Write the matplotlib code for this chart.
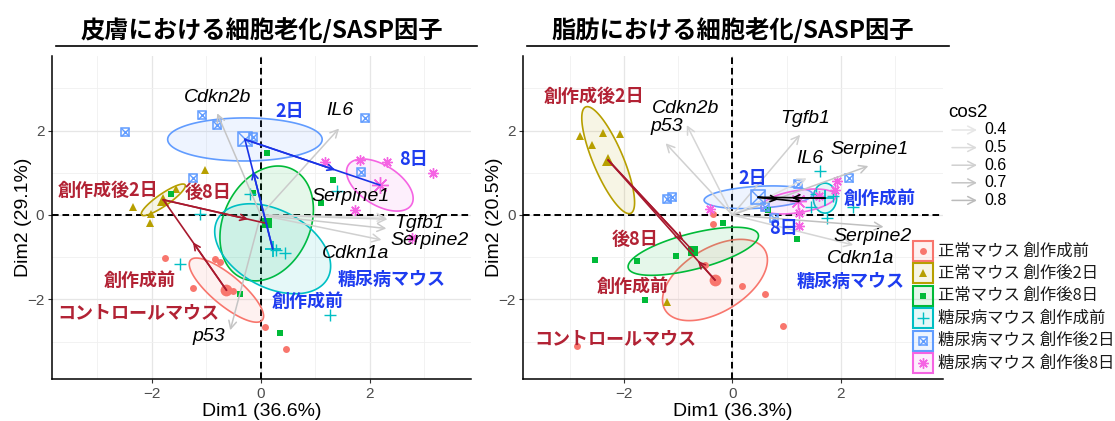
import numpy as np
import matplotlib
matplotlib.use("Agg")
import matplotlib.pyplot as plt
from matplotlib.patches import Polygon, Rectangle
from matplotlib.lines import Line2D
from matplotlib.colors import to_rgba

# ---------------- data ----------------
group_labels = ["正常マウス 創作成前", "正常マウス 創作後2日", "正常マウス 創作後8日",
                "糖尿病マウス 創作成前", "糖尿病マウス 創作後2日", "糖尿病マウス 創作後8日"]
group_colors = ["#F8766D", "#B79F00", "#00BA38", "#00BFC4", "#619CFF", "#F564E3"]

var_names = ["Cdkn2b", "IL6", "Serpine1", "Tgfb1", "Serpine2", "Cdkn1a", "p53"]
cos2_levels = [0.4, 0.5, 0.6, 0.7, 0.8]
ctl_texts = ["創作成後2日", "後8日", "創作成前", "コントロールマウス"]
dia_texts = ["2日", "8日", "創作成前", "糖尿病マウス"]

# --- skin panel ---
skin_title = "皮膚における細胞老化/SASP因子"
skin_xlabel = "Dim1 (36.6%)"
skin_ylabel = "Dim2 (29.1%)"
skin_pts_x = [[-1.76, -0.84, -0.75, -1.24, -0.50, 0.08, 0.46],
              [-1.02, -2.34, -2.02, -2.03, -1.55],
              [-1.64, 0.12, -0.14, 1.33, 1.10, -0.38, 0.35],
              [-1.12, -0.20, 1.40, 0.29, 0.45, -1.48, 1.27],
              [-2.49, -1.08, -0.81, -0.14, -1.25, 1.92, 1.84],
              [1.18, 1.83, 2.32, 3.17, 1.73, 2.78]]
skin_pts_y = [[-1.01, -1.05, -1.11, -1.74, -1.79, -2.66, -3.18],
              [1.07, 0.20, 0.02, -0.20, 0.62],
              [0.49, 1.46, 0.53, 0.82, 0.28, -1.87, -2.80],
              [0.02, 0.49, 0.57, -0.83, -0.91, -1.15, -2.37],
              [1.97, 2.37, 2.13, 1.86, 0.87, 2.29, 1.03],
              [1.26, 1.30, 1.26, 0.99, 0.12, -0.55]]
skin_cen_x = [-0.63, -1.79, 0.11, 0.22, -0.29, 2.19]
skin_cen_y = [-1.78, 0.36, -0.20, -0.80, 1.79, 0.71]
skin_ell_u = [(0.66, -0.71), (0.40, 0.355), (0.857, 0.237), (1.06, -0.31), (1.42, 0.0), (0.58, -0.47)]
skin_ell_v = [(-0.177, -0.272), (0.063, -0.117), (0.06, 1.34), (-0.107, 1.02), (0.0, 0.51), (-0.196, -0.40)]
skin_var_x = [-0.80, 1.44, 2.31, 2.33, 2.31, 2.22, -0.56]
skin_var_y = [2.41, 2.05, -0.06, -0.10, -0.32, -0.59, -2.73]
skin_var_cos2 = [0.7, 0.65, 0.45, 0.6, 0.65, 0.6, 0.7]
skin_lab_x = [-0.80, 1.45, 1.65, 2.91, 3.11, 1.75, -0.95]
skin_lab_y = [2.79, 2.47, 0.43, -0.20, -0.61, -0.91, -2.88]
skin_ctl_tx = [-2.80, -0.96, -2.22, -2.24]
skin_ctl_ty = [0.59, 0.53, -1.54, -2.31]
skin_dia_tx = [0.54, 2.81, 0.87, 2.41]
skin_dia_ty = [2.45, 1.32, -2.04, -1.54]

# --- fat panel ---
fat_title = "脂肪における細胞老化/SASP因子"
fat_xlabel = "Dim1 (36.3%)"
fat_ylabel = "Dim2 (20.5%)"
fat_pts_x = [[-0.35, -0.36, -0.50, 0.17, 0.60, 0.94, -2.87],
             [-2.81, -2.39, -2.08, -2.59, -1.21],
             [-2.53, -1.75, -1.03, -0.17, -1.61, 1.20, 0.66],
             [1.62, 2.23, 1.74, 1.45, 1.55, 1.85],
             [-1.21, -1.12, 1.21, 2.16, 0.76, 0.60],
             [-0.41, 1.93, 1.23, 1.23, 1.60, 1.90]]
fat_pts_y = [[0.02, -0.21, -1.18, -1.68, -1.87, -2.63, -3.10],
             [1.87, 1.95, 1.92, 1.66, -2.05],
             [-1.07, -1.08, -0.97, -0.19, -2.01, -0.58, 0.11],
             [1.05, 0.18, -0.06, 0.18, 0.50, 0.45],
             [0.37, 0.43, 0.74, 0.88, -0.08, 0.20],
             [0.15, 0.80, 0.04, -0.25, 0.45, 0.60]]
fat_cen_x = [-0.32, -2.29, -0.72, 1.71, 0.48, 1.22]
fat_cen_y = [-1.54, 1.30, -0.86, 0.40, 0.42, 0.32]
fat_ell_u = [(0.92, 0.71), (0.415, -1.26), (1.20, 0.395), (0.215, 0.0), (1.0, 0.07), (0.69, 0.14)]
fat_ell_v = [(0.30, -0.65), (0.255, 0.138), (0.083, -0.41), (0.0, 0.355), (0.0, 0.26), (0.03, -0.26)]
fat_var_x = [-0.84, 1.37, 2.51, 1.25, 2.79, 2.23, -1.23]
fat_var_y = [2.13, 0.87, 1.16, 1.90, -0.28, -0.71, 1.70]
fat_var_cos2 = [0.55, 0.45, 0.7, 0.6, 0.75, 0.55, 0.6]
fat_lab_x = [-0.87, 1.43, 2.54, 1.35, 2.58, 2.36, -1.21]
fat_lab_y = [2.53, 1.34, 1.56, 2.29, -0.51, -1.03, 2.09]
fat_ctl_tx = [-2.55, -1.80, -1.83, -2.16]
fat_ctl_ty = [2.82, -0.59, -1.70, -2.92]
fat_dia_tx = [0.37, 0.94, 2.71, 2.18]
fat_dia_ty = [0.87, -0.32, 0.40, -1.58]

# ---------------- style ----------------
W, H = 1115, 421
CJK = ["Noto Sans CJK JP", "DejaVu Sans"]
LAT = ["Liberation Sans", "DejaVu Sans"]
plt.rcParams["font.family"] = ["Liberation Sans", "Noto Sans CJK JP", "DejaVu Sans"]
RED_TXT = "#B22234"
BLUE_TXT = "#1E3CF0"
RED_LINE = "#A8192E"


def fx(px):
    return px / W


def fy(py):
    return 1 - py / H


def cos2_gray(v):
    g = 0.90 - (v - 0.4) * 0.42
    return (g, g, g)


def marker_kws(gi, big):
    c = group_colors[gi]
    if gi == 0:
        return [dict(marker="o", ms=8.5 if big else 5, mfc=c, mec=c, mew=0)]
    if gi == 1:
        return [dict(marker="^", ms=9 if big else 6, mfc=c, mec=c, mew=0)]
    if gi == 2:
        return [dict(marker="s", ms=7.5 if big else 5, mfc=c, mec=c, mew=0)]
    if gi == 3:
        return [dict(marker="+", ms=11 if big else 8, mec=c, mew=1.3 if big else 1.0)]
    if gi == 4:
        s = 9.5 if big else 5.5
        return [dict(marker="s", ms=s, mfc="none", mec=c, mew=1.1),
                dict(marker="x", ms=s, mec=c, mew=1.0)]
    return [dict(marker=(8, 2, 0), ms=12 if big else 7.5, mec=c, mew=1.0)]


def draw_panel(rect, xlim, title, xlabel, ylabel, pts_x, pts_y, cen_x, cen_y,
               ell_u, ell_v, var_x, var_y, var_cos2, lab_x, lab_y,
               ctl_tx, ctl_ty, dia_tx, dia_ty, ctl_frac, dia_frac, dia_color):
    ax = fig.add_axes(rect)
    ax.set_xlim(*xlim)
    ax.set_ylim(-3.886, 3.777)
    ax.set_xticks([-2, 0, 2])
    ax.set_yticks([-2, 0, 2])
    ax.set_xticks([-3, -1, 1, 3], minor=True)
    ax.set_yticks([-3, -1, 1, 3], minor=True)
    ax.grid(True, which="major", color="#E6E6E6", lw=0.9, zorder=0)
    ax.grid(True, which="minor", color="#F0F0F0", lw=0.6, zorder=0)
    ax.set_axisbelow(True)
    for s in ["top", "right"]:
        ax.spines[s].set_visible(False)
    for s in ["left", "bottom"]:
        ax.spines[s].set_color("black")
        ax.spines[s].set_linewidth(1.1)
    ax.tick_params(which="major", length=3, width=0.8, color="#333333",
                   labelsize=11, labelcolor="#4D4D4D", pad=2.5)
    ax.tick_params(which="minor", length=0)
    for lab in ax.get_xticklabels() + ax.get_yticklabels():
        lab.set_family(LAT)

    ax.text(0.5, -0.099, xlabel, transform=ax.transAxes, ha="center", va="center",
            fontsize=14, family=LAT, color="black")
    ax.text(-0.069, 0.5, ylabel, transform=ax.transAxes, ha="center", va="center",
            rotation=90, fontsize=14, family=LAT, color="black")

    # title with underline
    ax.text(0.5, 1.079, title, transform=ax.transAxes, ha="center", va="center",
            fontsize=17.5, fontweight="bold", family=CJK, color="black")
    ax.add_line(Line2D([0.009, 1.015], [1.0297, 1.0297], transform=ax.transAxes,
                       color="black", lw=1.2, clip_on=False))

    # zero lines
    ax.axhline(0, color="black", lw=1.4, ls=(0, (3.4, 2.0)), zorder=1.5)
    ax.axvline(0, color="black", lw=1.4, ls=(0, (3.4, 2.0)), zorder=1.5)

    # ellipses
    t = np.linspace(0, 2 * np.pi, 200)
    for gi in range(6):
        ux, uy = ell_u[gi]
        vx, vy = ell_v[gi]
        ex = cen_x[gi] + ux * np.cos(t) + vx * np.sin(t)
        ey = cen_y[gi] + uy * np.cos(t) + vy * np.sin(t)
        c = group_colors[gi]
        ax.add_patch(Polygon(np.column_stack([ex, ey]), closed=True,
                             facecolor=to_rgba(c, 0.1), edgecolor=c, lw=1.2, zorder=2))

    # individual points
    for gi in range(6):
        for kw in marker_kws(gi, False):
            ax.plot(pts_x[gi], pts_y[gi], ls="none", zorder=3, **kw)

    # variable arrows
    for i in range(len(var_names)):
        col = cos2_gray(var_cos2[i])
        ax.annotate("", xy=(var_x[i], var_y[i]), xytext=(0, 0),
                    arrowprops=dict(arrowstyle="->,head_length=0.55,head_width=0.28",
                                    color=col, lw=1.1, shrinkA=0, shrinkB=0), zorder=4)
        ax.text(lab_x[i], lab_y[i], var_names[i], ha="center", va="center",
                fontsize=14, style="italic", family=LAT, color="black", zorder=8)

    # centroids
    for gi in range(6):
        for kw in marker_kws(gi, True):
            ax.plot([cen_x[gi]], [cen_y[gi]], ls="none", zorder=5, **kw)

    # trajectories
    def trajectory(idx, fracs, color):
        for k in range(len(idx) - 1):
            a, b = idx[k], idx[k + 1]
            x0, y0, x1, y1 = cen_x[a], cen_y[a], cen_x[b], cen_y[b]
            ax.plot([x0, x1], [y0, y1], color=color, lw=1.2, zorder=6)
            f = fracs[k]
            ax.annotate("", xy=(x0 + f * (x1 - x0), y0 + f * (y1 - y0)), xytext=(x0, y0),
                        arrowprops=dict(arrowstyle="->,head_length=0.45,head_width=0.22",
                                        color=color, lw=1.2, shrinkA=0, shrinkB=0), zorder=6)

    trajectory([0, 1, 2], ctl_frac, RED_LINE)
    trajectory([3, 4, 5], dia_frac, dia_color)

    for i, s in enumerate(ctl_texts):
        ax.text(ctl_tx[i], ctl_ty[i], s, ha="center", va="center", fontsize=13,
                fontweight="bold", family=CJK, color=RED_TXT, zorder=9)
    for i, s in enumerate(dia_texts):
        ax.text(dia_tx[i], dia_ty[i], s, ha="center", va="center", fontsize=13,
                fontweight="bold", family=CJK, color=BLUE_TXT, zorder=9)
    return ax


fig = plt.figure(figsize=(W / 100, H / 100), dpi=100)
ax_h = (379 - 55.6) / H
draw_panel([fx(52), fy(379), (470.7 - 52) / W, ax_h], (-3.836, 3.860),
           skin_title, skin_xlabel, skin_ylabel, skin_pts_x, skin_pts_y,
           skin_cen_x, skin_cen_y, skin_ell_u, skin_ell_v,
           skin_var_x, skin_var_y, skin_var_cos2, skin_lab_x, skin_lab_y,
           skin_ctl_tx, skin_ctl_ty, skin_dia_tx, skin_dia_ty,
           [0.53, 0.82], [0.71, 0.67], "#1A33E6")
draw_panel([fx(523.3), fy(379), (943 - 523.3) / W, ax_h], (-3.856, 3.887),
           fat_title, fat_xlabel, fat_ylabel, fat_pts_x, fat_pts_y,
           fat_cen_x, fat_cen_y, fat_ell_u, fat_ell_v,
           fat_var_x, fat_var_y, fat_var_cos2, fat_lab_x, fat_lab_y,
           fat_ctl_tx, fat_ctl_ty, fat_dia_tx, fat_dia_ty,
           [0.16, 0.88], [0.5, 0.5], "black")

# ---------------- cos2 legend ----------------
fig.text(fx(948), fy(112.7), "cos2", ha="left", va="center", fontsize=13.5, family=LAT)
for i, v in enumerate(cos2_levels):
    yy = fy(130 + 17.6 * i)
    fig.add_artist(matplotlib.patches.FancyArrowPatch(
        (fx(952), yy), (fx(977), yy), transform=fig.transFigure,
        arrowstyle="->,head_length=0.55,head_width=0.28", mutation_scale=10,
        color=cos2_gray(v), lw=1.1, shrinkA=0, shrinkB=0))
    fig.text(fx(984), yy, f"{v:.1f}", ha="left", va="center", fontsize=11.5, family=LAT)

# ---------------- group legend ----------------
for gi, lab in enumerate(group_labels):
    cy_px = 251 + 22.4 * gi
    c = group_colors[gi]
    fig.add_artist(Rectangle((fx(913), fy(cy_px + 10)), 20 / W, 20 / H,
                             transform=fig.transFigure, facecolor=to_rgba(c, 0.1),
                             edgecolor=c, lw=1.5))
    for kw in marker_kws(gi, False):
        fig.add_artist(Line2D([fx(923)], [fy(cy_px)], transform=fig.transFigure,
                              ls="none", **kw))
    fig.text(fx(938), fy(cy_px), lab, ha="left", va="center", fontsize=11.8,
             family=CJK, color="#1A1A1A")

fig.savefig("out.png", dpi=100)
